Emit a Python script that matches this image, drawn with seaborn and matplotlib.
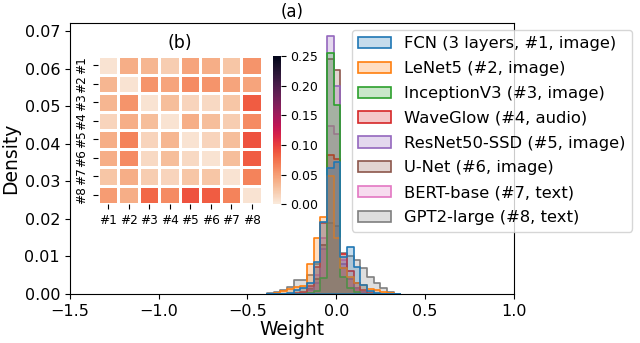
import numpy as np
import pandas as pd
import matplotlib
matplotlib.use("Agg")
import matplotlib.pyplot as plt
import seaborn as sns

# histogram bins (shared by all models)
bin_width = 0.0375
bin_edges = -0.0525 + bin_width * np.arange(-9, 12)
bin_centers = (bin_edges[:-1] + bin_edges[1:]) / 2

models = [
    "FCN (3 layers, #1, image)",
    "LeNet5 (#2, image)",
    "InceptionV3 (#3, image)",
    "WaveGlow (#4, audio)",
    "ResNet50-SSD (#5, image)",
    "U-Net (#6, image)",
    "BERT-base (#7, text)",
    "GPT2-large (#8, text)",
]

fcn = [0, 0, 0, 0.0003, 0.001, 0.0015, 0.0028, 0.0086, 0.0192, 0.0334,
       0.035, 0.0099, 0.0125, 0.0072, 0.0024, 0.0008, 0.0002, 0, 0, 0]
lenet = [0, 0.0003, 0.0008, 0.0012, 0.0018, 0.0022, 0.008, 0.0148, 0.0205, 0.0315,
         0.015, 0.007, 0.0045, 0.003, 0.0024, 0.0012, 0.001, 0.0005, 0.0002, 0]
inception = [0, 0, 0, 0, 0, 0, 0.0002, 0.0008, 0.0042, 0.0641,
             0.0504, 0.0046, 0.0015, 0.0004, 0, 0, 0, 0, 0, 0]
waveglow = [0, 0, 0, 0, 0.0002, 0.0006, 0.002, 0.0072, 0.019, 0.037,
            0.036, 0.0106, 0.006, 0.003, 0.001, 0.0003, 0, 0, 0, 0]
resnet = [0, 0, 0, 0, 0, 0.0003, 0.001, 0.003, 0.012, 0.0687,
          0.0553, 0.008, 0.004, 0.0015, 0.0004, 0, 0, 0, 0, 0]
unet = [0, 0, 0, 0, 0, 0.0003, 0.0012, 0.004, 0.013, 0.0625,
        0.0597, 0.007, 0.004, 0.0015, 0.0004, 0, 0, 0, 0, 0]
bert = [0, 0, 0, 0, 0, 0.0003, 0.0015, 0.005, 0.015, 0.0446,
        0.0427, 0.009, 0.004, 0.001, 0.0003, 0, 0, 0, 0, 0]
gpt2 = [0.0003, 0.0006, 0.001, 0.0019, 0.0037, 0.0037, 0.005, 0.008, 0.013, 0.019,
        0.018, 0.011, 0.0101, 0.009, 0.0069, 0.0046, 0.003, 0.0016, 0.0005, 0.0001]

# pairwise distance matrix for inset (b)
pair_labels = ["#1", "#2", "#3", "#4", "#5", "#6", "#7", "#8"]
dist = np.array([
    [0.005, 0.040, 0.035, 0.020, 0.045, 0.040, 0.025, 0.055],
    [0.035, 0.005, 0.055, 0.045, 0.060, 0.055, 0.045, 0.045],
    [0.035, 0.055, 0.005, 0.030, 0.015, 0.012, 0.025, 0.085],
    [0.015, 0.040, 0.030, 0.005, 0.040, 0.030, 0.020, 0.060],
    [0.040, 0.065, 0.015, 0.035, 0.005, 0.015, 0.030, 0.090],
    [0.040, 0.060, 0.012, 0.030, 0.012, 0.005, 0.030, 0.085],
    [0.025, 0.040, 0.020, 0.015, 0.025, 0.025, 0.005, 0.065],
    [0.050, 0.040, 0.080, 0.060, 0.090, 0.085, 0.065, 0.005],
])

heights = [fcn, lenet, inception, waveglow, resnet, unet, bert, gpt2]
df = pd.DataFrame({
    "weight": np.tile(bin_centers, len(models)),
    "density": np.concatenate(heights),
    "model": np.repeat(models, len(bin_centers)),
})

fig = plt.figure(figsize=(6.4, 3.43), dpi=100)
ax = fig.add_axes([0.109, 0.143, 0.694, 0.790])

sns.histplot(data=df, x="weight", weights="density", hue="model", hue_order=models,
             bins=list(bin_edges), element="step", fill=True, stat="count",
             palette="tab10", linewidth=1.2, ax=ax)

ax.set_xlim(-1.5, 1.0)
ax.set_yticks(np.arange(0, 0.0701, 0.01))
ax.set_xlabel("Weight", fontsize=13.5, labelpad=1)
ax.set_ylabel("Density", fontsize=13.5, labelpad=3)
ax.set_title("(a)", fontsize=12, pad=4)
ax.tick_params(labelsize=11.5)

old = ax.get_legend()
handles = old.legend_handles
labels = [t.get_text() for t in old.get_texts()]
old.remove()
ax.legend(handles, labels, loc="upper left", bbox_to_anchor=(0.635, 0.975),
          fontsize=11.8, labelspacing=0.6, frameon=True, borderaxespad=0)

# inset heatmap
hax = fig.add_axes([0.153, 0.405, 0.256, 0.431])
cax = fig.add_axes([0.426, 0.405, 0.0125, 0.431])
sns.heatmap(dist, ax=hax, cbar_ax=cax, cmap="rocket_r", vmin=0, vmax=0.25,
            linewidths=1, linecolor="white",
            xticklabels=pair_labels, yticklabels=pair_labels,
            cbar_kws={"ticks": [0, 0.05, 0.10, 0.15, 0.20, 0.25], "format": "%.2f"})
hax.set_title("(b)", fontsize=12.5)
hax.tick_params(labelsize=8.7)
plt.setp(hax.get_yticklabels(), rotation=90, va="center")
plt.setp(hax.get_xticklabels(), rotation=0)
cax.tick_params(labelsize=9)

fig.savefig("out.png", dpi=100)
